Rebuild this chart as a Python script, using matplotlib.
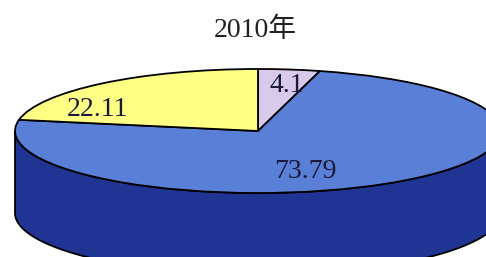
import numpy as np
import matplotlib
matplotlib.use("Agg")
import matplotlib.pyplot as plt
from matplotlib.transforms import Affine2D
from matplotlib.patches import Polygon

# shares for 2010, clockwise from 12 o'clock
title = "2010年"
labels = ["4.1", "73.79", "22.11"]
values = [4.1, 73.79, 22.11]
colors = ["#d9c9ea", "#5a7fd6", "#ffff85"]
side_color = "#1f3493"

# ellipse geometry in pixels (y up)
W, H = 486, 257
cx, cy = 258, 126
a, b = 243, 62
depth = 82

fig = plt.figure(figsize=(W / 100, H / 100), dpi=100)
ax = fig.add_axes([0, 0, 1, 1])

wedges, _ = ax.pie(values, startangle=90, counterclock=False, colors=colors,
                   wedgeprops=dict(edgecolor="black", linewidth=1.3))
squash = Affine2D().scale(a, b).translate(cx, cy) + ax.transData
for w in wedges:
    w.set_transform(squash)
    w.set_zorder(3)

# side band of the cylinder (front half)
t = np.linspace(np.pi, 2 * np.pi, 200)
top = np.column_stack([cx + a * np.cos(t), cy + b * np.sin(t)])
bot = top[::-1] - [0, depth]
side = Polygon(np.vstack([top, bot]), closed=True, facecolor=side_color,
               edgecolor="black", linewidth=1.3, zorder=2)
ax.add_patch(side)

ax.set_aspect("auto")
ax.set_xlim(0, W)
ax.set_ylim(0, H)
ax.axis("off")

font = ["Liberation Serif", "Noto Sans CJK SC"]
ax.text(255, H - 30, title, ha="center", va="center", fontsize=20, family=font, color="#222222")

pos = {"4.1": (287, H - 86), "73.79": (305, H - 171), "22.11": (97, H - 109)}
for lab in labels:
    x, y = pos[lab]
    ax.text(x, y, lab, ha="center", va="center", fontsize=20, family=font,
            color="#1a1a3a", zorder=5)

fig.savefig("out.png", dpi=100)
